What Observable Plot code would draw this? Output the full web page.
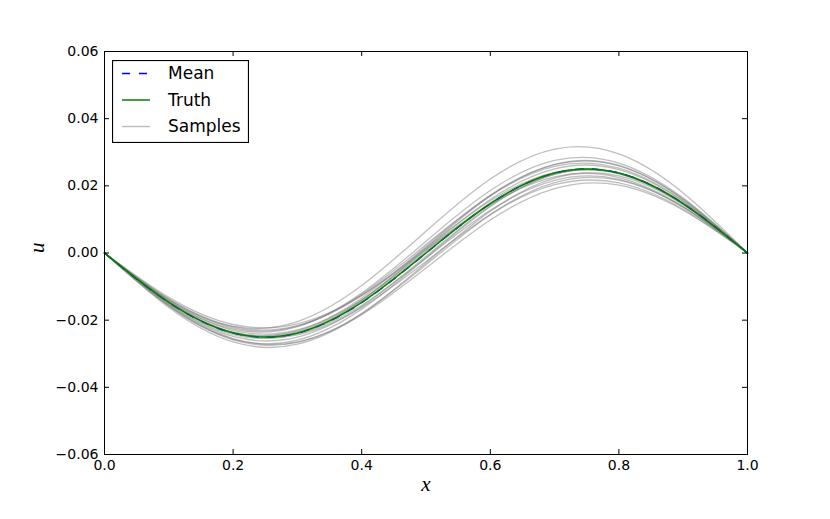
<!DOCTYPE html>
<html>
<head>
<meta charset="utf-8">
<script src="https://cdn.jsdelivr.net/npm/d3@7"></script>
<script src="https://cdn.jsdelivr.net/npm/@observablehq/plot@0.6"></script>
<style>
  html, body { margin: 0; padding: 0; background: white; }
  #wrap { position: relative; width: 830px; height: 519px; }
</style>
</head>
<body>
<div id="wrap"></div>
<script>
// x positions where curves were read
const xs = [0, 0.1, 0.2, 0.3, 0.4, 0.5, 0.6, 0.7, 0.8, 0.9, 1.0];

// ground truth
const truth = [0, -0.0147, -0.0238, -0.0238, -0.0147, 0.0, 0.0147, 0.0238, 0.0238, 0.0147, 0];
// posterior mean
const mean = [0, -0.01475, -0.02385, -0.02386, -0.01478, -0.00005, 0.01466, 0.02382, 0.02383, 0.01472, 0];

// posterior samples
const sample01 = [0, -0.01386, -0.02186, -0.02042, -0.00969, 0.0065, 0.02205, 0.03094, 0.02950, 0.01788, 0];
const sample02 = [0, -0.01512, -0.02432, -0.02399, -0.01415, 0.0015, 0.01701, 0.02641, 0.02608, 0.01604, 0];
const sample03 = [0, -0.01466, -0.02355, -0.02311, -0.01338, 0.0020, 0.01718, 0.02635, 0.02591, 0.01590, 0];
const sample04 = [0, -0.01468, -0.02366, -0.02344, -0.01404, 0.0010, 0.01594, 0.02506, 0.02484, 0.01530, 0];
const sample05 = [0, -0.01393, -0.02231, -0.02176, -0.01232, 0.0025, 0.01708, 0.02580, 0.02525, 0.01547, 0];
const sample06 = [0, -0.01425, -0.02301, -0.02290, -0.01392, 0.0005, 0.01488, 0.02370, 0.02359, 0.01455, 0];
const sample07 = [0, -0.01365, -0.02195, -0.02162, -0.01268, 0.0015, 0.01554, 0.02404, 0.02371, 0.01457, 0];
const sample08 = [0, -0.01530, -0.02484, -0.02506, -0.01594, -0.0010, 0.01404, 0.02344, 0.02366, 0.01468, 0];
const sample09 = [0, -0.01621, -0.02649, -0.02716, -0.01813, -0.0030, 0.01243, 0.02230, 0.02297, 0.01435, 0];
const sample10 = [0, -0.01578, -0.02584, -0.02661, -0.01803, -0.0035, 0.01137, 0.02095, 0.02172, 0.01362, 0];
const sample11 = [0, -0.01550, -0.02548, -0.02647, -0.01839, -0.0045, 0.00983, 0.01919, 0.02018, 0.01272, 0];
const sample12 = [0, -0.01458, -0.02382, -0.02437, -0.01619, -0.0025, 0.01143, 0.02033, 0.02088, 0.01304, 0];
const sample13 = [0, -0.01457, -0.02371, -0.02404, -0.01554, -0.0015, 0.01268, 0.02162, 0.02195, 0.01365, 0];
const sample14 = [0, -0.01321, -0.02129, -0.02107, -0.01257, 0.0010, 0.01447, 0.02269, 0.02247, 0.01383, 0];
const sample15 = [0, -0.01574, -0.02561, -0.02594, -0.01671, -0.0015, 0.01385, 0.02352, 0.02385, 0.01482, 0];
const sample16 = [0, -0.01420, -0.02267, -0.02190, -0.01195, 0.0035, 0.01861, 0.02756, 0.02679, 0.01636, 0];

const samples = [sample01, sample02, sample03, sample04, sample05, sample06, sample07, sample08,
                 sample09, sample10, sample11, sample12, sample13, sample14, sample15, sample16];

// ticks
const xTicks = [0, 0.2, 0.4, 0.6, 0.8, 1.0];
const yTicks = [-0.06, -0.04, -0.02, 0.0, 0.02, 0.04, 0.06];

// legend labels
const legendLabels = ["Mean", "Truth", "Samples"];

// build tables
const sampleRows = samples.flatMap((s, k) => s.map((v, i) => ({x: xs[i], y: v, id: k})));
const truthRows = truth.map((v, i) => ({x: xs[i], y: v}));
const meanRows = mean.map((v, i) => ({x: xs[i], y: v}));

const W = 830, H = 519, mL = 104, mR = 83, mT = 51, mB = 65;
const plotW = W - mL - mR, plotH = H - mT - mB;
const tickLen = 5;

const chart = Plot.plot({
  width: W, height: H,
  marginLeft: mL, marginRight: mR, marginTop: mT, marginBottom: mB,
  x: {domain: [0, 1]},
  y: {domain: [-0.06, 0.06]},
  style: {fontFamily: "DejaVu Sans", fontSize: "14px", background: "white", color: "black"},
  marks: [
    Plot.line(sampleRows, {x: "x", y: "y", z: "id", stroke: "#808080", strokeOpacity: 0.5, strokeWidth: 1.3, curve: "natural"}),
    Plot.line(meanRows, {x: "x", y: "y", stroke: "#0000ff", strokeWidth: 1.3, strokeDasharray: "8,9", curve: "natural"}),
    Plot.line(truthRows, {x: "x", y: "y", stroke: "#008000", strokeWidth: 1.6, curve: "natural"}),
    Plot.frame({stroke: "black", strokeWidth: 1}),
    Plot.tickX(xTicks, {x: d => d, insetTop: plotH - tickLen, stroke: "black", strokeWidth: 1}),
    Plot.tickX(xTicks, {x: d => d, insetBottom: plotH - tickLen, stroke: "black", strokeWidth: 1}),
    Plot.tickY(yTicks, {y: d => d, insetRight: plotW - tickLen, stroke: "black", strokeWidth: 1}),
    Plot.tickY(yTicks, {y: d => d, insetLeft: plotW - tickLen, stroke: "black", strokeWidth: 1}),
    Plot.axisX({ticks: xTicks, tickSize: 0, tickPadding: 6, tickFormat: d3.format(".1f"), label: null}),
    Plot.axisY({ticks: yTicks, tickSize: 0, tickPadding: 6, tickFormat: d3.format(".2f"), label: null}),
    Plot.text(["x"], {frameAnchor: "bottom", dy: 36, fontFamily: "Liberation Serif", fontStyle: "italic", fontSize: 21, fill: "black"}),
    Plot.text(["u"], {frameAnchor: "left", dx: -67, rotate: -90, fontFamily: "Liberation Serif", fontStyle: "italic", fontSize: 21, fill: "black"})
  ]
});

const wrap = document.getElementById("wrap");
wrap.appendChild(chart);

// legend (inside the axes, upper left)
const legend = d3.create("svg")
  .attr("width", 137).attr("height", 83)
  .style("position", "absolute").style("left", "112px").style("top", "60px");
legend.append("rect").attr("x", 0.5).attr("y", 0.5).attr("width", 136).attr("height", 82)
  .attr("fill", "white").attr("stroke", "black").attr("stroke-width", 1.2);
const styles = [
  {stroke: "#0000ff", dash: "8,9", opacity: 1},
  {stroke: "#008000", dash: null, opacity: 1},
  {stroke: "#808080", dash: null, opacity: 0.5}
];
legendLabels.forEach((lab, i) => {
  const cy = 13.5 + i * 26.5;
  legend.append("line").attr("x1", 10).attr("x2", 38).attr("y1", cy).attr("y2", cy)
    .attr("stroke", styles[i].stroke).attr("stroke-width", 1.5)
    .attr("stroke-opacity", styles[i].opacity)
    .attr("stroke-dasharray", styles[i].dash);
  legend.append("text").attr("x", 56).attr("y", cy).attr("dy", "0.35em")
    .attr("font-family", "DejaVu Sans").attr("font-size", 17).attr("fill", "black").text(lab);
});
wrap.appendChild(legend.node());
</script>
</body>
</html>
